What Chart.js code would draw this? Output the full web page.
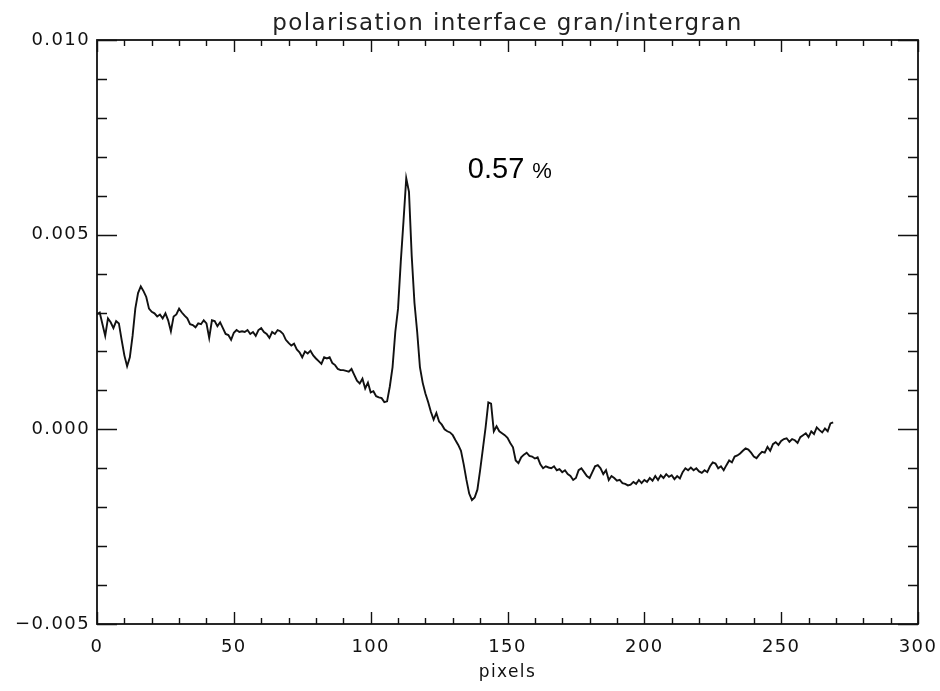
<!DOCTYPE html>
<html>
<head>
<meta charset="utf-8">
<title>polarisation interface gran/intergran</title>
<script src="https://cdn.jsdelivr.net/npm/chart.js@4/dist/chart.umd.min.js"></script>
<style>
  html, body { margin: 0; padding: 0; background: #fff; }
  #wrap { width: 940px; height: 691px; }
</style>
</head>
<body>
<div id="wrap"><canvas id="c" width="940" height="691"></canvas></div>
<script>
// Polarisation signal across the granule / intergranule interface, one value per pixel
const polarisation = [
  0.00295, 0.00300, 0.00270, 0.00240, 0.00285, 0.00275, 0.00260, 0.00278, 0.00272, 0.00230,
  0.00190, 0.00162, 0.00185, 0.00240, 0.00310, 0.00350, 0.00367, 0.00355, 0.00340, 0.00310,
  0.00302, 0.00298, 0.00290, 0.00295, 0.00285, 0.00298, 0.00280, 0.00252, 0.00290, 0.00295,
  0.00310, 0.00300, 0.00292, 0.00285, 0.00270, 0.00268, 0.00262, 0.00272, 0.00270, 0.00280,
  0.00272, 0.00235, 0.00280, 0.00278, 0.00265, 0.00275, 0.00260, 0.00245, 0.00242, 0.00230,
  0.00248, 0.00255, 0.00250, 0.00252, 0.00250, 0.00255, 0.00245, 0.00250, 0.00240, 0.00255,
  0.00260, 0.00250, 0.00245, 0.00235, 0.00250, 0.00245, 0.00255, 0.00252, 0.00245, 0.00230,
  0.00222, 0.00215, 0.00220, 0.00205, 0.00198, 0.00185, 0.00200, 0.00195, 0.00202, 0.00190,
  0.00182, 0.00175, 0.00168, 0.00185, 0.00182, 0.00185, 0.00170, 0.00165, 0.00155, 0.00152,
  0.00152, 0.00150, 0.00148, 0.00155, 0.00140, 0.00125, 0.00118, 0.00130, 0.00105, 0.00120,
  0.00095, 0.00098, 0.00085, 0.00082, 0.00080, 0.00070, 0.00072, 0.00110, 0.00160, 0.00250,
  0.00310, 0.00430, 0.00535, 0.00645, 0.00610, 0.00445, 0.00325, 0.00250, 0.00160, 0.00120,
  0.00092, 0.00070, 0.00045, 0.00025, 0.00042, 0.00020, 0.00012, 0.00000, -0.00005, -0.00008,
  -0.00015, -0.00028, -0.00040, -0.00055, -0.00090, -0.00130, -0.00165, -0.00182, -0.00175, -0.00155,
  -0.00105, -0.00050, 0.00005, 0.00069, 0.00066, -0.00005, 0.00008, -0.00005, -0.00010, -0.00015,
  -0.00022, -0.00035, -0.00046, -0.00080, -0.00087, -0.00072, -0.00065, -0.00060, -0.00068, -0.00070,
  -0.00075, -0.00072, -0.00090, -0.00100, -0.00095, -0.00098, -0.00100, -0.00095, -0.00105, -0.00102,
  -0.00110, -0.00105, -0.00115, -0.00120, -0.00130, -0.00125, -0.00105, -0.00100, -0.00110, -0.00120,
  -0.00125, -0.00110, -0.00095, -0.00092, -0.00100, -0.00115, -0.00105, -0.00130, -0.00120, -0.00125,
  -0.00132, -0.00130, -0.00138, -0.00140, -0.00144, -0.00142, -0.00135, -0.00140, -0.00130, -0.00138,
  -0.00130, -0.00135, -0.00125, -0.00132, -0.00120, -0.00130, -0.00118, -0.00125, -0.00115, -0.00122,
  -0.00118, -0.00128, -0.00120, -0.00126, -0.00110, -0.00100, -0.00105, -0.00098, -0.00105, -0.00100,
  -0.00108, -0.00112, -0.00105, -0.00110, -0.00095, -0.00085, -0.00088, -0.00100, -0.00095, -0.00105,
  -0.00092, -0.00080, -0.00085, -0.00070, -0.00067, -0.00062, -0.00055, -0.00049, -0.00052, -0.00060,
  -0.00070, -0.00074, -0.00065, -0.00058, -0.00060, -0.00045, -0.00055, -0.00038, -0.00033, -0.00040,
  -0.00030, -0.00025, -0.00023, -0.00032, -0.00025, -0.00028, -0.00035, -0.00020, -0.00015, -0.00010,
  -0.00020, -0.00005, -0.00012, 0.00005, -0.00002, -0.00008, 0.00002, -0.00005, 0.00015, 0.00018
];

// Axis ticks
const xMajorTicks = [0, 50, 100, 150, 200, 250, 300];
const xMinorStep = 10;
const yMajorTicks = [-0.005, 0.000, 0.005, 0.010];
const yMinorStep = 0.001;

// Annotation placed next to the peak
const peakLabel = { x: 135.5, y: 0.00645, value: '0.57', unit: '%' };

const INK = '#111';
const TICK_FONT = { family: 'DejaVu Sans', size: 18 };

const points = polarisation.map((v, i) => ({ x: i, y: v }));

function fmtY(v) {
  const s = Math.abs(v).toFixed(3);
  return v < -1e-9 ? '\u2212' + s : s;
}

// Widely spaced lettering for the axis and title text
const spacingPlugin = {
  id: 'spacing',
  beforeDraw(chart) { chart.ctx.letterSpacing = '1.4px'; },
  afterDraw(chart) { chart.ctx.letterSpacing = '0px'; }
};

// Closed frame with inward major/minor ticks on all four sides
const framePlugin = {
  id: 'frame',
  afterDatasetsDraw(chart) {
    const { ctx, chartArea: a, scales: { x, y } } = chart;
    ctx.save();
    ctx.strokeStyle = INK;
    ctx.lineWidth = 1.8;
    ctx.strokeRect(a.left, a.top, a.right - a.left, a.bottom - a.top);
    ctx.lineWidth = 1.4;
    ctx.beginPath();
    for (let v = x.min; v <= x.max + 1e-9; v += xMinorStep) {
      const major = xMajorTicks.some(t => Math.abs(t - v) < 1e-6);
      const len = major ? 12 : 6;
      const px = Math.round(x.getPixelForValue(v)) + 0.5;
      ctx.moveTo(px, a.bottom); ctx.lineTo(px, a.bottom - len);
      ctx.moveTo(px, a.top); ctx.lineTo(px, a.top + len);
    }
    for (let k = 0; ; k++) {
      const v = y.min + k * yMinorStep;
      if (v > y.max + 1e-9) break;
      const major = yMajorTicks.some(t => Math.abs(t - v) < 1e-7);
      const len = major ? 20 : 10;
      const py = Math.round(y.getPixelForValue(v)) + 0.5;
      ctx.moveTo(a.left, py); ctx.lineTo(a.left + len, py);
      ctx.moveTo(a.right, py); ctx.lineTo(a.right - len, py);
    }
    ctx.stroke();

    // peak annotation
    const tx = x.getPixelForValue(peakLabel.x);
    const ty = y.getPixelForValue(peakLabel.y);
    ctx.letterSpacing = '0px';
    ctx.fillStyle = '#000';
    ctx.textBaseline = 'alphabetic';
    ctx.textAlign = 'left';
    ctx.font = '29px "Liberation Sans", Arial, sans-serif';
    ctx.fillText(peakLabel.value, tx, ty);
    const w = ctx.measureText(peakLabel.value + ' ').width;
    ctx.font = '22px "Liberation Sans", Arial, sans-serif';
    ctx.fillText(peakLabel.unit, tx + w, ty);
    ctx.restore();
  }
};

new Chart(document.getElementById('c'), {
  type: 'line',
  data: {
    datasets: [{
      data: points,
      borderColor: INK,
      borderWidth: 1.9,
      pointRadius: 0,
      tension: 0,
      fill: false
    }]
  },
  options: {
    responsive: false,
    animation: false,
    events: [],
    layout: { padding: { top: 0, right: 22, bottom: 0, left: 0 } },
    plugins: {
      legend: { display: false },
      tooltip: { enabled: false },
      title: {
        display: true,
        fullSize: false,
        text: 'polarisation interface gran/intergran',
        color: '#222',
        font: { family: 'DejaVu Sans', size: 23, weight: 'normal', lineHeight: 1.2 },
        padding: { top: 10, bottom: 2.4 }
      }
    },
    scales: {
      x: {
        type: 'linear',
        min: 0,
        max: 300,
        grid: { display: false, drawTicks: false },
        border: { display: false },
        afterBuildTicks(scale) { scale.ticks = xMajorTicks.map(v => ({ value: v })); },
        afterFit(scale) {
          scale.height = 67;
          scale.paddingLeft = 0;
          scale.paddingRight = 0;
        },
        ticks: {
          color: INK,
          font: TICK_FONT,
          padding: 13,
          maxRotation: 0,
          autoSkip: false,
          callback: v => String(v)
        },
        title: {
          display: true,
          text: 'pixels',
          color: INK,
          font: { family: 'DejaVu Sans', size: 17, lineHeight: 1.2 },
          padding: { top: 0, bottom: 8 }
        }
      },
      y: {
        type: 'linear',
        min: -0.005,
        max: 0.010,
        grid: { display: false, drawTicks: false },
        border: { display: false },
        afterBuildTicks(scale) { scale.ticks = yMajorTicks.map(v => ({ value: v })); },
        afterFit(scale) {
          scale.width = 97;
          scale.paddingTop = 0;
          scale.paddingBottom = 0;
        },
        ticks: {
          color: INK,
          font: TICK_FONT,
          padding: 7,
          autoSkip: false,
          callback: v => fmtY(v)
        }
      }
    }
  },
  plugins: [spacingPlugin, framePlugin]
});
</script>
</body>
</html>
